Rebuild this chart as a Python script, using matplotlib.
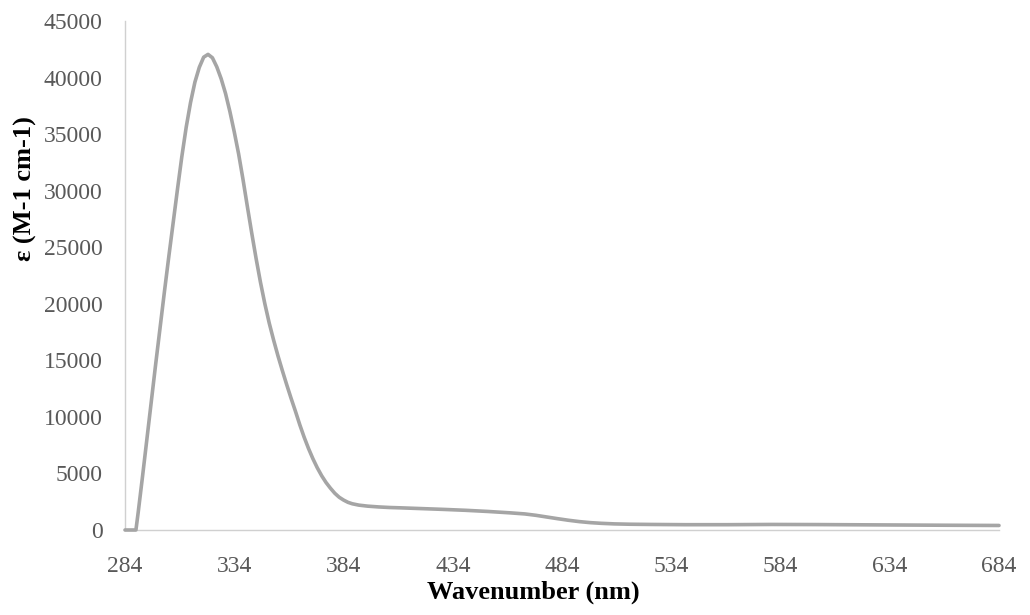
import numpy as np
import matplotlib
matplotlib.use('Agg')
import matplotlib.pyplot as plt

plt.rcParams['font.family'] = ['Liberation Serif', 'DejaVu Serif']

# absorption spectrum (nm, molar absorptivity)
wavelength = [284, 289, 290, 292, 294, 296, 298, 300, 302, 304, 306, 308,
              310, 312, 314, 316, 318, 320, 322, 324, 326, 328, 330, 332,
              334, 336, 338, 340, 342, 344, 346, 348, 350, 352, 354, 356,
              358, 360, 362, 364, 366, 368, 370, 372, 374, 376, 378, 380,
              382, 384, 386, 388, 391, 395, 400, 405, 410, 420, 430,
              440, 450, 460, 467, 472, 477, 482, 487, 492, 497, 502, 508,
              515, 525, 540, 560, 580, 600, 620, 640, 660, 684]
epsilon = [0, 0, 1500, 4700, 8000, 11300, 14600, 17800, 21000, 24100, 27100, 30100,
           33000, 35600, 37800, 39600, 40900, 41800, 42050, 41750, 40950, 39900, 38600, 37000,
           35200, 33250, 31000, 28600, 26250, 24000, 21900, 20000, 18300, 16800, 15400, 14100,
           12850, 11650, 10500, 9300, 8200, 7200, 6300, 5500, 4800, 4200, 3700, 3250,
           2900, 2650, 2450, 2320, 2200, 2110, 2040, 1990, 1960, 1890, 1820,
           1740, 1640, 1520, 1420, 1300, 1150, 1000, 860, 740, 650, 590, 540,
           510, 490, 470, 470, 490, 480, 460, 440, 420, 400]

xticks = [284, 334, 384, 434, 484, 534, 584, 634, 684]
yticks = [0, 5000, 10000, 15000, 20000, 25000, 30000, 35000, 40000, 45000]


def main():
    fig = plt.figure(figsize=(10.3, 6.15), dpi=100)
    ax = fig.add_axes([125 / 1030, 85 / 615, 874 / 1030, 509 / 615])

    ax.plot(wavelength, epsilon, color='#a5a5a5', linewidth=2.6,
            solid_joinstyle='round', solid_capstyle='round', clip_on=False)

    ax.set_xlim(284, 684)
    ax.set_ylim(0, 45000)
    ax.set_xticks(xticks)
    ax.set_yticks(yticks)
    ax.tick_params(length=0, labelsize=17, colors='#595959')
    ax.tick_params(axis='y', pad=16)
    ax.tick_params(axis='x', pad=19)

    for side in ('top', 'right'):
        ax.spines[side].set_visible(False)
    for side in ('left', 'bottom'):
        ax.spines[side].set_color('#d0d0d0')
        ax.spines[side].set_linewidth(1.0)
        ax.spines[side].set_zorder(0)

    fig.text(533 / 1030, 1 - 592 / 615, 'Wavenumber (nm)', ha='center', va='center',
             fontsize=19, fontweight='bold')
    fig.text(25 / 1030, 1 - 189 / 615, 'ε (M-1 cm-1)', ha='center', va='center',
             rotation=90, fontsize=19, fontweight='bold')

    fig.savefig('out.png', dpi=100)


if __name__ == '__main__':
    main()
